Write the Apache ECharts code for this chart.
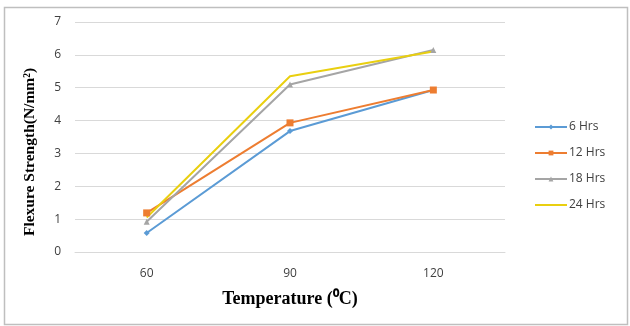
<!DOCTYPE html>
<html><head><meta charset="utf-8">
<script src="https://cdn.jsdelivr.net/npm/echarts@6/dist/echarts.min.js"></script>
<style>html,body{margin:0;padding:0;background:#fff}#c{width:630px;height:326px}</style>
</head><body><div id="c"></div>
<script>
var categories = ['60', '90', '120'];
var hrs6 = [0.58, 3.68, 4.93];
var hrs12 = [1.19, 3.93, 4.93];
var hrs18 = [0.92, 5.1, 6.15];
var hrs24 = [1.05, 5.35, 6.1];
var seriesNames = ['6 Hrs', '12 Hrs', '18 Hrs', '24 Hrs'];
var yTicks = [0, 1, 2, 3, 4, 5, 6, 7];
var yTitle = 'Flexure Strength(N/mm²)';
var xTitle = 'Temperature (⁰C)';

var colors = ['#5B9BD5', '#ED7D31', '#A5A5A5', '#E9CF10'];
var symbols = ['diamond', 'rect', 'triangle', 'none'];
var dataSets = [hrs6, hrs12, hrs18, hrs24];

var chart = echarts.init(document.getElementById('c'));
chart.setOption({
  animation: false,
  color: colors,
  graphic: [{
    type: 'rect', left: 2, top: 5,
    shape: { width: 623, height: 317 },
    style: { fill: 'none', stroke: '#BFBFBF', lineWidth: 1.5 }
  }, {
    type: 'text', x: 30, y: 152, rotation: Math.PI / 2,
    style: {
      text: yTitle, align: 'center', verticalAlign: 'middle',
      font: 'bold 15.5px "Liberation Serif"', fill: '#000'
    }
  }],
  grid: { left: 75, right: 125, top: 22, bottom: 74 },
  legend: {
    orient: 'vertical', left: 529, top: 116, itemGap: 14,
    itemWidth: 32, itemHeight: 6,
    data: seriesNames.map(function (n, i) {
      return i === 3 ? { name: n, itemStyle: { opacity: 0 } } : { name: n };
    }),
    textStyle: { fontFamily: 'Open Sans', fontSize: 12, color: '#404040', padding: [0, 0, 0, -3] }
  },
  xAxis: {
    type: 'category', data: categories, boundaryGap: true,
    axisLine: { show: true, lineStyle: { color: '#D9D9D9' } },
    axisTick: { show: false },
    axisLabel: { fontFamily: 'Open Sans', fontSize: 12, color: '#404040', margin: 16 },
    name: xTitle, nameLocation: 'middle', nameGap: 38,
    nameTextStyle: { fontFamily: 'Liberation Serif', fontWeight: 'bold', fontSize: 18, color: '#000' }
  },
  yAxis: {
    type: 'value', min: yTicks[0], max: yTicks[yTicks.length - 1], interval: 1,
    axisLine: { show: false }, axisTick: { show: false },
    splitLine: { lineStyle: { color: '#D9D9D9', width: 1 } },
    axisLabel: { fontFamily: 'Open Sans', fontSize: 12, color: '#404040', margin: 14 }
  },
  series: dataSets.map(function (d, i) {
    return {
      name: seriesNames[i], type: 'line', data: d,
      symbol: symbols[i], symbolSize: i === 1 ? 7 : 6,
      showSymbol: i !== 3,
      lineStyle: { width: 2, color: colors[i] },
      itemStyle: { color: colors[i] }
    };
  })
});
</script></body></html>
